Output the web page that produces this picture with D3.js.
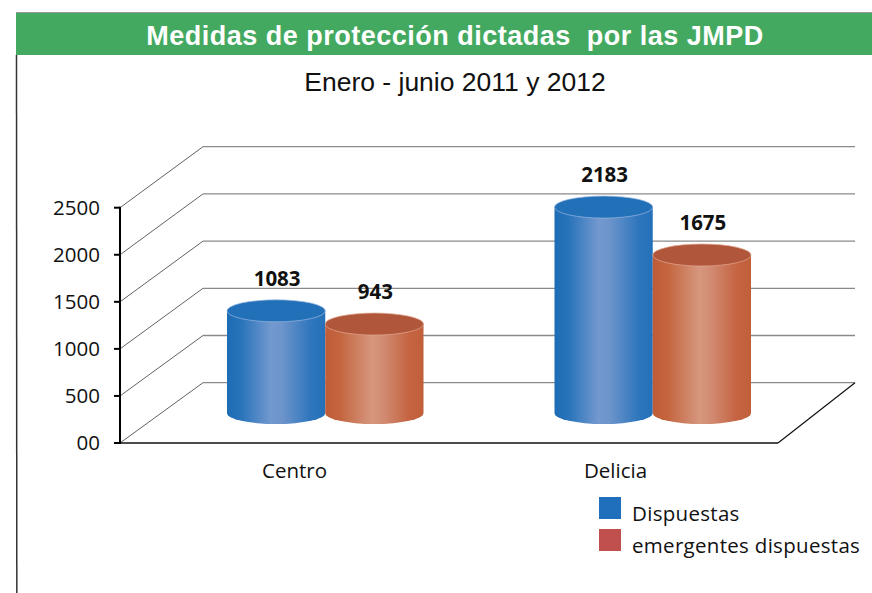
<!DOCTYPE html>
<html>
<head>
<meta charset="utf-8">
<script src="https://cdn.jsdelivr.net/npm/d3@7"></script>
<style>
  html, body { margin: 0; padding: 0; background: #fff; }
  svg { display: block; }
</style>
</head>
<body>
<svg id="chart" width="872" height="593"></svg>
<script>
// data
const categories = ["Centro", "Delicia"];
const seriesNames = ["Dispuestas", "emergentes dispuestas"];
const dispuestas = [1083, 2183];
const emergentes = [943, 1675];
const tickValues = [0, 500, 1000, 1500, 2000, 2500];
const tickLabels = ["00", "500", "1000", "1500", "2000", "2500"];

const svg = d3.select("#chart");
const W = 872, H = 593;

// header band
svg.append("rect").attr("x", 16).attr("y", 12).attr("width", W - 16).attr("height", 43)
  .attr("fill", "#44a960");
svg.append("line").attr("x1", 16).attr("x2", W).attr("y1", 12.5).attr("y2", 12.5)
  .attr("stroke", "#9a9a9a").attr("stroke-width", 1);
svg.append("line").attr("x1", 16.5).attr("x2", 16.8).attr("y1", 55).attr("y2", H)
  .attr("stroke", "#333").attr("stroke-width", 1.5);

svg.append("text").attr("x", 455).attr("y", 45)
  .attr("text-anchor", "middle")
  .style("white-space", "pre")
  .attr("font-family", "'Liberation Sans', Arial, sans-serif")
  .attr("font-weight", "bold").attr("font-size", 27).attr("letter-spacing", 0.5)
  .attr("fill", "#fff")
  .text("Medidas de protección dictadas  por las JMPD");

svg.append("text").attr("x", 455).attr("y", 91)
  .attr("text-anchor", "middle")
  .attr("font-family", "'Liberation Sans', Arial, sans-serif")
  .attr("font-size", 26.5).attr("fill", "#111")
  .text("Enero - junio 2011 y 2012");

// 3d frame: front plane, back plane, bars at mid depth
const yFront = d3.scaleLinear().domain([0, 2500]).range([443, 207.7]);
const yBack = d3.scaleLinear().domain([0, 2500]).range([382.7, 146.7]);
const yMid = d3.scaleLinear().domain([0, 2500]).range([413, 177.2]);
const xFrontL = 120, xBackL = 203, xBackR = 855, xFrontR = 778;

const grid = svg.append("g");
// back wall lines
grid.selectAll("line.back").data(tickValues).join("line")
  .attr("class", "back")
  .attr("x1", xBackL).attr("x2", xBackR)
  .attr("y1", d => yBack(d)).attr("y2", d => yBack(d))
  .attr("stroke", "#8a8a8a").attr("stroke-width", 1.3);
// side wall diagonals
grid.selectAll("line.side").data(tickValues).join("line")
  .attr("class", "side")
  .attr("x1", xFrontL).attr("x2", xBackL)
  .attr("y1", d => yFront(d)).attr("y2", d => yBack(d))
  .attr("stroke", "#3a3a3a").attr("stroke-width", 0.8);
// floor front edge and right edge
grid.append("line").attr("x1", xFrontL).attr("x2", xFrontR)
  .attr("y1", yFront(0)).attr("y2", yFront(0))
  .attr("stroke", "#111").attr("stroke-width", 1.5);
grid.append("line").attr("x1", xFrontR).attr("x2", xBackR)
  .attr("y1", yFront(0)).attr("y2", yBack(0))
  .attr("stroke", "#111").attr("stroke-width", 1.2);

// y axis
const axis = svg.append("g");
axis.append("line").attr("x1", xFrontL).attr("x2", xFrontL)
  .attr("y1", yFront(2500) - 1).attr("y2", yFront(0) + 1)
  .attr("stroke", "#000").attr("stroke-width", 2);
axis.selectAll("line.tick").data(tickValues).join("line")
  .attr("class", "tick")
  .attr("x1", xFrontL - 6).attr("x2", xFrontL)
  .attr("y1", d => yFront(d)).attr("y2", d => yFront(d))
  .attr("stroke", "#000").attr("stroke-width", 2);
axis.selectAll("text").data(tickValues).join("text")
  .attr("x", 100).attr("y", d => yFront(d))
  .attr("dy", "0.36em")
  .attr("text-anchor", "end")
  .attr("font-family", "'Open Sans', sans-serif").attr("font-size", 20.5)
  .attr("fill", "#111")
  .text((d, i) => tickLabels[i]);

// bars
const x0 = d3.scaleBand().domain(categories).range([(xFrontL + xBackL) / 2, (xFrontR + xBackR) / 2])
  .paddingInner(0.4).paddingOuter(0.2);
const x1 = d3.scaleBand().domain(seriesNames).range([0, x0.bandwidth()]);

const defs = svg.append("defs");
function cylGrad(id, stops) {
  const g = defs.append("linearGradient").attr("id", id)
    .attr("x1", "0%").attr("x2", "100%").attr("y1", "0%").attr("y2", "0%");
  stops.forEach(s => g.append("stop").attr("offset", s[0]).attr("stop-color", s[1]));
}
cylGrad("gBlue", [["0%", "#1c6cb5"], ["15%", "#2a74bb"], ["45%", "#7399cf"], ["56%", "#6d94cb"], ["85%", "#2f76bd"], ["100%", "#2471b9"]]);
cylGrad("gOrange", [["0%", "#bf5c37"], ["15%", "#c4653f"], ["48%", "#d6977f"], ["60%", "#d18a71"], ["85%", "#c56442"], ["100%", "#c15f3a"]]);

const styles = [
  { grad: "url(#gBlue)", top: "#2170b8", edge: "#9ab8e0" },
  { grad: "url(#gOrange)", top: "#b0563a", edge: "#e3a890" }
];
const seriesData = [dispuestas, emergentes];
const ry = 11;

const rows = [];
seriesData.forEach((vals, s) => {
  vals.forEach((v, i) => rows.push({ s, cat: categories[i], v }));
});

const bars = svg.append("g");
rows.forEach(d => {
  const left = x0(d.cat) + x1(seriesNames[d.s]);
  const rx = x1.bandwidth() / 2;
  const cx = left + rx;
  const yT = yMid(d.v), yB = yMid(0);
  const st = styles[d.s];
  bars.append("path")
    .attr("d", `M${left},${yT} L${left},${yB} A${rx},${ry} 0 0 0 ${left + 2 * rx},${yB} L${left + 2 * rx},${yT} Z`)
    .attr("fill", st.grad);
  bars.append("ellipse")
    .attr("cx", cx).attr("cy", yT).attr("rx", rx).attr("ry", ry)
    .attr("fill", st.top).attr("stroke", st.edge).attr("stroke-width", 0.7);
  bars.append("text")
    .attr("x", cx + 1).attr("y", yT - 25)
    .attr("text-anchor", "middle")
    .attr("font-family", "'Open Sans', sans-serif").attr("font-weight", "bold")
    .attr("font-size", 20.5).attr("fill", "#111")
    .text(d.v);
});

// category labels
const xLab = d3.scaleBand().domain(categories).range([134, 776]);
svg.append("g").selectAll("text").data(categories).join("text")
  .attr("x", d => xLab(d) + xLab.bandwidth() / 2).attr("y", 478)
  .attr("text-anchor", "middle")
  .attr("font-family", "'Open Sans', sans-serif").attr("font-size", 20.5)
  .attr("fill", "#111")
  .text(d => d);

// legend
const legendColors = ["#1f6fbc", "#c0504d"];
const leg = svg.append("g").attr("transform", "translate(599,497)");
seriesNames.forEach((name, i) => {
  leg.append("rect").attr("x", 0).attr("y", i * 32).attr("width", 22).attr("height", 22)
    .attr("fill", legendColors[i]);
  leg.append("text").attr("x", 33).attr("y", i * 32 + 23.5)
    .attr("font-family", "'Open Sans', sans-serif").attr("font-size", 20.5)
    .attr("letter-spacing", 0.3)
    .attr("fill", "#111")
    .text(name);
});
</script>
</body>
</html>
